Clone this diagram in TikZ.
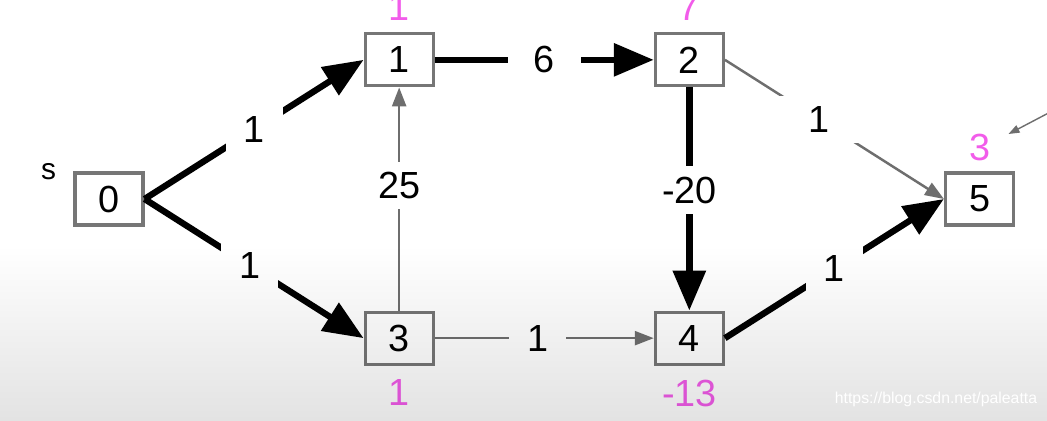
\documentclass[tikz,border=0pt]{standalone}
\usepackage{fontspec}
\setmainfont{Liberation Sans}
\usetikzlibrary{positioning, arrows.meta, backgrounds}

\definecolor{boxgray}{RGB}{118,118,118}
\definecolor{edgegray}{RGB}{110,110,110}
\definecolor{distpink}{RGB}{242,92,234}
\newcommand{\numfont}{\fontsize{21.5}{24}\selectfont}

\begin{document}
\begin{tikzpicture}[
        node distance=1.68cm and 4.38cm,
        vertex_node/.style={draw=boxgray, line width=1.8pt, rectangle, minimum width=1.36cm, minimum height=1.04cm, inner sep=0pt, font=\numfont},
        dist_node/.style={inner sep=0pt, text=distpink, font=\numfont},
        weight_node/.style={fill=white, inner xsep=0.36cm, inner ysep=0.21cm, font=\numfont},
        heavy_arrow/.style={-{Triangle[length=0.8cm, width=0.64cm]}, line width=3.6pt},
        light_arrow/.style={-{Triangle[length=0.38cm, width=0.28cm]}, line width=1.4pt, draw=edgegray},
        pointer_arrow/.style={-{Triangle[length=0.22cm, width=0.16cm]}, line width=0.8pt, draw=edgegray}
    ]
        \useasboundingbox (-2.18,-4.42) rectangle (18.76,3.98);

        % Nodes
        \node (n0) [vertex_node] {0};
        \node (n1) [vertex_node, above right=of n0] {1};
        \node (n3) [vertex_node, below right=of n0] {3};
        \node (n2) [vertex_node, right=of n1] {2};
        \node (n4) [vertex_node, right=of n3] {4};
        \node (n5) [vertex_node, below right=of n2] {5};
        \node (src) [inner sep=0pt, anchor=east, font=\fontsize{17}{20}\selectfont] at ([xshift=-0.34cm]n0.north west) {s};

        % Distances
        \node (d1) [dist_node, above=0.22cm of n1] {1};
        \node (d2) [dist_node, above=0.22cm of n2] {7};
        \node (d5) [dist_node, above=0.2cm of n5] {3};
        \node (d3) [dist_node, below=0.26cm of n3] {1};
        \node (d4) [dist_node, below=0.28cm of n4] {-13};

        % Arrows
        \draw [heavy_arrow] (n0.east) -- node[weight_node] {1} (n1.west);
        \draw [heavy_arrow] (n0.east) -- node[weight_node, pos=0.48] {1} (n3.west);
        \draw [heavy_arrow] (n1) -- node[weight_node, inner xsep=0.52cm] {6} (n2);
        \draw [heavy_arrow] (n2) -- node[weight_node, pos=0.46] {-20} (n4);
        \draw [light_arrow] (n3) -- node[weight_node, pos=0.56] {25} (n1);
        \draw [light_arrow] (n2.east) -- node[weight_node, pos=0.43, inner xsep=0.6cm] {1} (n5.west);
        \draw [light_arrow] (n3) -- node[weight_node, pos=0.47] {1} (n4);
        \draw [heavy_arrow] (n4.east) -- node[weight_node] {1} (n5.west);

        \coordinate (ptr_start) at ([xshift=1.38cm, yshift=1.72cm]n5.center);
        \coordinate (ptr_end) at ([xshift=0.58cm, yshift=1.30cm]n5.center);
        \draw [pointer_arrow] (ptr_start) -- (ptr_end);

        % Grey overlay at the bottom
        \begin{scope}[blend mode=multiply]
            \shade [top color=white, bottom color=black!11] (-2.18,-4.42) rectangle (18.76,-0.92);
        \end{scope}
        \node (watermark) [text=white, font=\fontsize{9}{10}\selectfont] at (16.54,-4.0) {https://blog.csdn.net/paleatta};

        % Background
        \begin{scope}[on background layer]
            \fill [white] (-2.18,-4.42) rectangle (18.76,3.98);
        \end{scope}
    \end{tikzpicture}
\end{document}
